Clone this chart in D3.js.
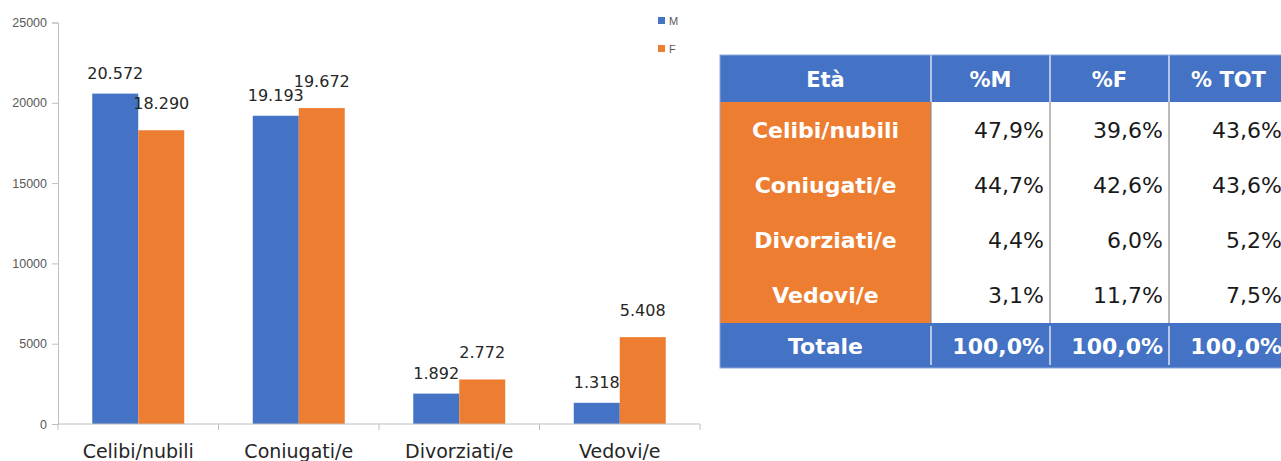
<!DOCTYPE html>
<html><head><meta charset="utf-8">
<script src="https://cdn.jsdelivr.net/npm/d3@7"></script>
<style>html,body{margin:0;padding:0;background:#fff;overflow:hidden}</style>
</head><body>
<svg id="c" width="1281" height="461"></svg>
<script>
// ---- data ----
const categories = ["Celibi/nubili", "Coniugati/e", "Divorziati/e", "Vedovi/e"];
const series = ["M", "F"];
const valuesM = [20572, 19193, 1892, 1318];
const valuesF = [18290, 19672, 2772, 5408];
const yTicks = [0, 5000, 10000, 15000, 20000, 25000];

const tableHeader = ["Età", "%M", "%F", "% TOT"];
const tableRows = ["Celibi/nubili", "Coniugati/e", "Divorziati/e", "Vedovi/e"];
const pctM = [47.9, 44.7, 4.4, 3.1];
const pctF = [39.6, 42.6, 6.0, 11.7];
const pctTot = [43.6, 43.6, 5.2, 7.5];
const totalLabel = "Totale";
const totals = [100.0, 100.0, 100.0];

// ---- setup ----
const svg = d3.select("#c");
const colors = {M: "#4472C4", F: "#ED7D31"};
const it = d3.formatLocale({decimal: ",", thousands: ".", grouping: [3], currency: ["€", ""]});
const fmtNum = it.format(",d");
const fmtPct = v => it.format(".1f")(v) + "%";

const x0 = d3.scaleBand().domain(categories).range([58, 700]).padding(0);
const x1 = d3.scaleBand().domain(series).range([0, x0.bandwidth()]).paddingInner(0).paddingOuter(0.745);
const y = d3.scaleLinear().domain([0, 25000]).range([424, 22.5]);

// y axis
const ya = svg.append("g").attr("transform", "translate(58,0)")
  .call(d3.axisLeft(y).tickValues(yTicks).tickSize(6).tickPadding(5).tickFormat(d3.format("d")));
ya.select(".domain").attr("stroke", "#BFBFBF");
ya.selectAll(".tick line").attr("stroke", "#BFBFBF");
ya.selectAll(".tick text").attr("fill", "#595959").style("font-family", "Liberation Sans, Arial, sans-serif").style("font-size", "12.5px");

// bars
const data = categories.map((c, i) => ({c, M: valuesM[i], F: valuesF[i]}));
const g = svg.append("g");
const groups = g.selectAll("g.cat").data(data).join("g").attr("class", "cat")
  .attr("transform", d => `translate(${x0(d.c)},0)`);
groups.selectAll("rect").data(d => series.map(s => ({s, v: d[s]}))).join("rect")
  .attr("x", d => x1(d.s)).attr("width", x1.bandwidth())
  .attr("y", d => y(d.v)).attr("height", d => y(0) - y(d.v))
  .attr("fill", d => colors[d.s]);
groups.selectAll("text").data(d => series.map(s => ({s, v: d[s]}))).join("text")
  .attr("x", d => x1(d.s) + x1.bandwidth() / 2)
  .attr("y", d => y(d.v) - (d.s === "M" ? 15 : 21))
  .attr("text-anchor", "middle")
  .attr("fill", "#262626")
  .style("font-family", "DejaVu Sans, sans-serif").style("font-size", "16px")
  .text(d => fmtNum(d.v));

// x axis
svg.append("line").attr("x1", 58).attr("x2", 700).attr("y1", y(0)).attr("y2", y(0)).attr("stroke", "#BFBFBF");
const bounds = categories.map(c => x0(c)).concat([x0(categories[categories.length - 1]) + x0.bandwidth()]);
svg.selectAll("line.bt").data(bounds).join("line").attr("class", "bt")
  .attr("x1", d => d).attr("x2", d => d).attr("y1", y(0)).attr("y2", y(0) + 6).attr("stroke", "#BFBFBF");
svg.selectAll("text.cl").data(categories).join("text").attr("class", "cl")
  .attr("x", d => x0(d) + x0.bandwidth() / 2).attr("y", 458)
  .attr("text-anchor", "middle").attr("fill", "#262626")
  .style("font-family", "DejaVu Sans, sans-serif").style("font-size", "19px")
  .text(d => d);

// legend
const lg = svg.append("g").attr("transform", "translate(658,17)");
series.forEach((s, i) => {
  lg.append("rect").attr("x", 0).attr("y", i * 28).attr("width", 7).attr("height", 7).attr("fill", colors[s]);
  lg.append("text").attr("x", 11).attr("y", i * 28 + 7.5).attr("fill", "#595959")
    .style("font-family", "Liberation Sans, Arial, sans-serif").style("font-size", "11px").text(s);
});

// ---- table ----
const tx = 720, ty = 55;
const colW = [211, 119, 119, 119];
const colX = colW.map((w, i) => tx + d3.sum(colW.slice(0, i)));
const headH = 47, rowH = 55.25, totH = 45;
const tW = d3.sum(colW);
const t = svg.append("g");
const bold = s => s.style("font-family", "DejaVu Sans, sans-serif").style("font-weight", "bold");

// header
t.append("rect").attr("x", tx).attr("y", ty).attr("width", tW).attr("height", headH).attr("fill", "#4472C4");
tableHeader.forEach((h, i) => {
  bold(t.append("text").attr("x", colX[i] + colW[i] / 2).attr("y", ty + headH / 2 + 8)
    .attr("text-anchor", "middle").attr("fill", "#fff").style("font-size", "21px").text(h));
});
// body
const bodyY = ty + headH;
t.append("rect").attr("x", tx).attr("y", bodyY).attr("width", colW[0]).attr("height", rowH * tableRows.length).attr("fill", "#ED7D31");
t.append("rect").attr("x", colX[1]).attr("y", bodyY).attr("width", tW - colW[0]).attr("height", rowH * tableRows.length).attr("fill", "#fff");
const cols = [pctM, pctF, pctTot];
tableRows.forEach((r, ri) => {
  const cy = bodyY + ri * rowH + rowH / 2 + 8;
  bold(t.append("text").attr("x", colX[0] + colW[0] / 2).attr("y", cy).attr("text-anchor", "middle")
    .attr("fill", "#fff").style("font-size", "22px").text(r));
  cols.forEach((arr, ci) => {
    t.append("text").attr("x", colX[ci + 1] + colW[ci + 1] - 6).attr("y", cy).attr("text-anchor", "end")
      .attr("fill", "#1a1a1a").style("font-family", "DejaVu Sans, sans-serif").style("font-size", "22px")
      .text(fmtPct(arr[ri]));
  });
});
// total
const totY = bodyY + rowH * tableRows.length;
t.append("rect").attr("x", tx).attr("y", totY).attr("width", tW).attr("height", totH).attr("fill", "#4472C4");
bold(t.append("text").attr("x", colX[0] + colW[0] / 2).attr("y", totY + totH / 2 + 8).attr("text-anchor", "middle")
  .attr("fill", "#fff").style("font-size", "22px").text(totalLabel));
totals.forEach((v, ci) => {
  bold(t.append("text").attr("x", colX[ci + 1] + colW[ci + 1] - 6).attr("y", totY + totH / 2 + 8).attr("text-anchor", "end")
    .attr("fill", "#fff").style("font-size", "22px").text(fmtPct(v)));
});
// grid lines
[1, 2, 3].forEach(i => {
  t.append("line").attr("x1", colX[i]).attr("x2", colX[i]).attr("y1", ty).attr("y2", bodyY).attr("stroke", "#D9E1F2").attr("stroke-width", 1.5);
  t.append("line").attr("x1", colX[i]).attr("x2", colX[i]).attr("y1", bodyY).attr("y2", totY).attr("stroke", "#8C8C8C").attr("stroke-width", 1.2);
  t.append("line").attr("x1", colX[i]).attr("x2", colX[i]).attr("y1", totY + 3).attr("y2", totY + totH - 3).attr("stroke", "#fff").attr("stroke-width", 1.2);
});
t.append("rect").attr("x", tx).attr("y", ty).attr("width", tW).attr("height", headH + rowH * tableRows.length + totH)
  .attr("fill", "none").attr("stroke", "#8EA9DB").attr("stroke-width", 1);
</script>
</body></html>
